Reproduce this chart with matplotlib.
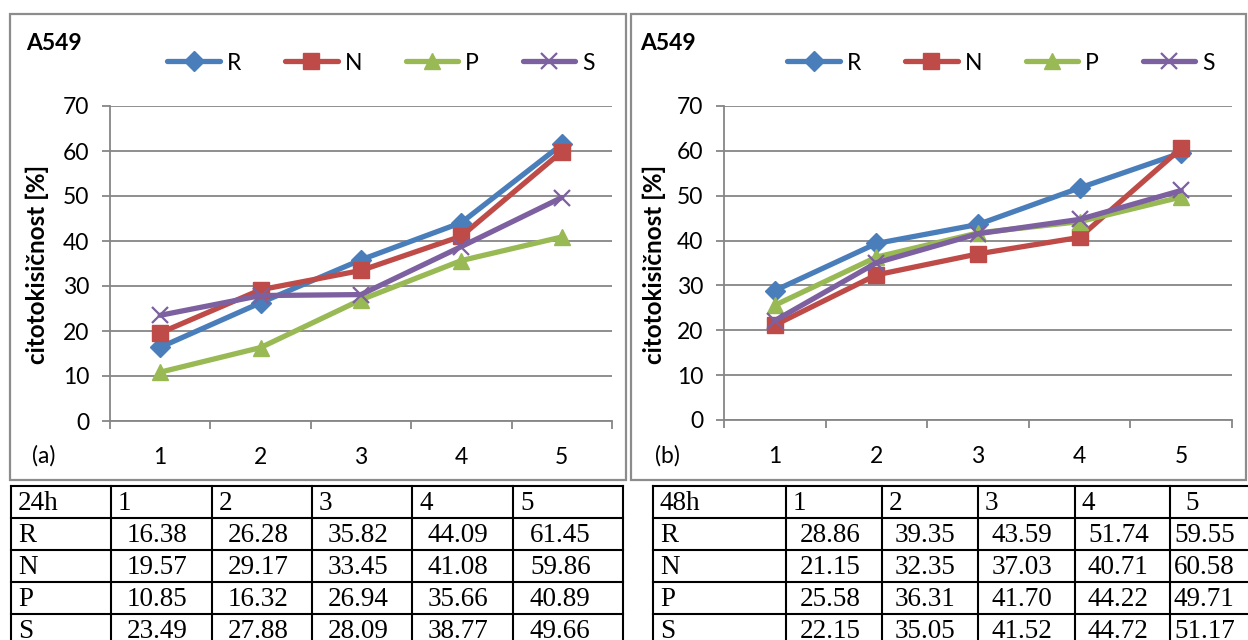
import numpy as np
import matplotlib.pyplot as plt
from matplotlib.patches import Rectangle

# data
days = [1, 2, 3, 4, 5]
series = ["R", "N", "P", "S"]
r24 = [16.38, 26.28, 35.82, 44.09, 61.45]
n24 = [19.57, 29.17, 33.45, 41.08, 59.86]
p24 = [10.85, 16.32, 26.94, 35.66, 40.89]
s24 = [23.49, 27.88, 28.09, 38.77, 49.66]
r48 = [28.86, 39.35, 43.59, 51.74, 59.55]
n48 = [21.15, 32.35, 37.03, 40.71, 60.58]
p48 = [25.58, 36.31, 41.70, 44.22, 49.71]
s48 = [22.15, 35.05, 41.52, 44.72, 51.17]

colors = ["#4A7EBB", "#BE4B48", "#98B954", "#7D60A0"]
markers = ["D", "s", "^", "x"]
msizes = [10, 11.5, 12, 12]

plt.rcParams['font.family'] = ['Lato', 'DejaVu Sans']
FS = 16.5

fig = plt.figure(figsize=(12.48, 6.40), dpi=100)

# overlay in pixel coords for boxes and tables
ov = fig.add_axes([0, 0, 1, 1], zorder=-1)
ov.set_xlim(0, 1248)
ov.set_ylim(640, 0)
ov.axis('off')

for x0, x1 in [(10, 626), (631, 1246)]:
    ov.add_patch(Rectangle((x0, 14), x1 - x0, 466, fill=False, ec="#8C8C8C", lw=1.6))


def chart(rect, data, lab, ylab_x, legend_cx, title_x, lab_x):
    ax = fig.add_axes(rect)
    ax.set_facecolor('none')
    x = np.array(days)
    for vals, c, m, ms, name in zip(data, colors, markers, msizes, series):
        ax.plot(x, vals, color=c, lw=3.8, marker=m, ms=ms, mec=c, mfc=c,
                mew=1.6 if m == "x" else 1, label=name, solid_capstyle='round')
    ax.set_xlim(0.5, 5.5)
    ax.set_ylim(0, 70)
    ax.set_yticks(range(0, 71, 10))
    ax.set_xticks(days)
    ax.set_xticks(np.arange(0.5, 5.6, 1), minor=True)
    ax.tick_params(axis='x', which='major', length=0, pad=19, labelsize=FS)
    ax.tick_params(axis='x', which='minor', length=6, width=1.3, color="#868686", direction='out')
    ax.tick_params(axis='y', length=6, width=1.3, color="#868686", pad=9, labelsize=FS)
    ax.grid(axis='y', color="#868686", lw=1.3)
    ax.set_axisbelow(True)
    for s in ['top', 'right']:
        ax.spines[s].set_visible(False)
    for s in ['left', 'bottom']:
        ax.spines[s].set_color("#868686")
        ax.spines[s].set_linewidth(1.3)
    ov.text(ylab_x, 264, "citotokisičnost [%]", rotation=90, ha='center', va='center',
            fontsize=17.5, fontweight='bold')
    ov.text(title_x, 43, "A549", ha='left', va='center', fontsize=FS, fontweight='bold')
    ov.text(lab_x, 456, lab, ha='left', va='center', fontsize=FS)
    fig.legend(*ax.get_legend_handles_labels(), loc='center', ncol=4, frameon=False,
               bbox_to_anchor=(legend_cx / 1248, 1 - 63 / 640), fontsize=FS,
               handlelength=2.3, handletextpad=0.3, columnspacing=1.9, numpoints=1)
    return ax


chart([110 / 1248, 1 - 421 / 640, 502 / 1248, 315 / 640],
      [r24, n24, p24, s24], "(a)", 37, 381, 26, 32)
chart([724 / 1248, 1 - 420 / 640, 508 / 1248, 314 / 640],
      [r48, n48, p48, s48], "(b)", 654, 1001, 640, 655)


def table(cols, head, data, numpad):
    rows = [486, 518, 550, 582, 614, 646]
    for y in rows:
        ov.plot([cols[0], cols[-1]], [y, y], color='black', lw=1.5, clip_on=False)
    for xc in cols:
        ov.plot([xc, xc], [rows[0], rows[-1]], color='black', lw=1.5, clip_on=False)
    tf = dict(fontsize=19.5, family='Liberation Serif', va='baseline')
    base = 24  # baseline offset from top of row
    ov.text(cols[0] + 7, rows[0] + base, head, ha='left', **tf)
    for j, d in enumerate(days):
        ov.text(cols[j + 1] + (15 if numpad[j] < 10 else 7), rows[0] + base, str(d), ha='left', **tf)
    for i, (name, vals) in enumerate(zip(series, data)):
        yb = rows[i + 1] + base
        ov.text(cols[0] + 7, yb, name, ha='left', **tf)
        for j, v in enumerate(vals):
            ov.text(cols[j + 1] + numpad[j], yb, f"{v:.2f}", ha='left', **tf)


table([11, 111, 212, 312, 412, 513, 623], "24h", [r24, n24, p24, s24], [16, 16, 16, 16, 17])
table([653, 786, 882, 978, 1075, 1170, 1266], "48h", [r48, n48, p48, s48], [14, 13, 14, 13, 4])

fig.savefig("out.png", dpi=100)
